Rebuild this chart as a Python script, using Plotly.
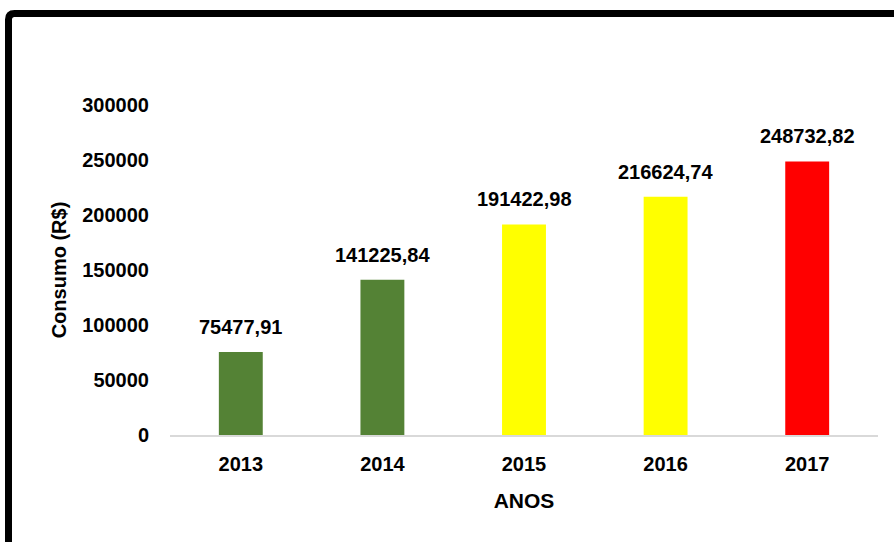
import plotly.graph_objects as go

anos = ["2013", "2014", "2015", "2016", "2017"]
consumo = [75477.91, 141225.84, 191422.98, 216624.74, 248732.82]
rotulos = ["75477,91", "141225,84", "191422,98", "216624,74", "248732,82"]
cores = ["#548235", "#548235", "#FFFF00", "#FFFF00", "#FF0000"]
ticks_y = [0, 50000, 100000, 150000, 200000, 250000, 300000]

FONT = "Liberation Sans, Arial, sans-serif"

fig = go.Figure()
fig.add_trace(go.Bar(
    x=anos, y=consumo, marker=dict(color=cores, line=dict(width=0)),
    hoverinfo="skip",
))

# data labels: x given as category index so the category axis is not stretched
for i, (v, t) in enumerate(zip(consumo, rotulos)):
    fig.add_annotation(x=i, y=v, xref="x", yref="y", text="<b>%s</b>" % t,
                       showarrow=False, yanchor="bottom", yshift=12,
                       font=dict(family=FONT, size=20, color="black"))

W, H = 894, 542
ml, mr, mt, mb = 170, 16, 105, 107
pw, ph = W - ml - mr, H - mt - mb

def px(x):
    return (x - ml) / pw

def py(y):
    return (H - mb - y) / ph

fig.add_shape(type="path", xref="paper", yref="paper",
              path="M %f %f L %f %f Q %f %f %f %f L %f %f" % (
                  px(8.5), py(560), px(8.5), py(19.5), px(8.5), py(13.5),
                  px(14.5), py(13.5), px(910), py(13.5)),
              line=dict(color="black", width=7))

fig.update_layout(
    width=W, height=H,
    margin=dict(l=ml, r=mr, t=mt, b=mb, autoexpand=False),
    paper_bgcolor="white", plot_bgcolor="white",
    showlegend=False,
    bargap=0.69,
    font=dict(family=FONT, color="black"),
    xaxis=dict(
        type="category", range=[-0.5, 4.5],
        showgrid=False, showline=True, linecolor="#d9d9d9", linewidth=2,
        ticks="", tickfont=dict(family=FONT, size=20, color="black"),
        tickprefix="<b>", ticksuffix="</b>", ticklabelstandoff=10,
        title=dict(text="<b>ANOS</b>", font=dict(family=FONT, size=21, color="black"), standoff=19),
    ),
    yaxis=dict(
        range=[0, 300000], tickvals=ticks_y, ticktext=["<b>%d</b>" % v for v in ticks_y],
        showgrid=False, zeroline=False, showline=False, ticks="",
        tickfont=dict(family=FONT, size=20, color="black"), ticklabelstandoff=20,
        title=dict(text="<b>Consumo (R$)</b>", font=dict(family=FONT, size=20, color="black"), standoff=10),
    ),
)

fig.write_html("out.html", config={"displayModeBar": False},
               post_script="document.body.style.margin='0';")
